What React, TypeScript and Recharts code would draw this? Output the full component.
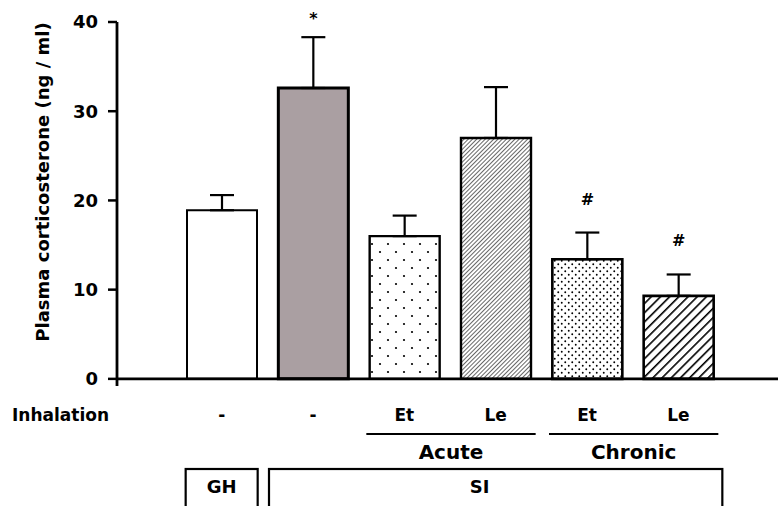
import React from 'react';
import { BarChart, Bar, XAxis, YAxis, Cell, ErrorBar, LabelList, ReferenceLine } from 'recharts';

// ---- data ----
const groups = ['GH', 'SI', 'SI Acute Et', 'SI Acute Le', 'SI Chronic Et', 'SI Chronic Le'];
const inhalation = ['-', '-', 'Et', 'Le', 'Et', 'Le'];
const means = [18.9, 32.6, 16.0, 27.0, 13.4, 9.3];
const sems = [1.7, 5.7, 2.3, 5.7, 3.0, 2.4];
const marks = ['', '*', '', '', '#', '#'];
const yTicks = [0, 10, 20, 30, 40];
const brackets = [
  { label: 'Acute', from: 2, to: 3 },
  { label: 'Chronic', from: 4, to: 5 },
];
const boxes = [
  { label: 'GH', from: 0, to: 0 },
  { label: 'SI', from: 1, to: 5 },
];
const yLabel = 'Plasma corticosterone (ng / ml)';
const rowLabel = 'Inhalation';

const data = groups.map((g, i) => ({
  group: g,
  inh: inhalation[i],
  mean: means[i],
  err: [0, sems[i]],
}));

// ---- layout / style ----
const W = 778;
const H = 506;
const Y_W = 117;
const PAD_L = 59;
const PAD_R = 54;
const STEP = (W - Y_W - PAD_L - PAD_R) / groups.length;
const FONT = "'DejaVu Sans', sans-serif";
const fills = ['#ffffff', '#aa9fa2', 'url(#dotsSparse)', 'url(#hatchFine)', 'url(#dotsDense)', 'url(#hatchBold)'];
const strokeWidths = [2, 3, 2.4, 2.4, 2.6, 2.6];

const ROW1 = 415;
const LINE_Y = 434;
const ROW2 = 452;
const BOX_TOP = 469;
const ROW3 = 486;

function XTick(props: any) {
  const { x, index } = props;
  const out: React.ReactNode[] = [];
  out.push(
    <text key="inh" x={x} y={ROW1} textAnchor="middle" dominantBaseline="central"
      fontFamily={FONT} fontWeight="bold" fontSize={17} fill="#000">{inhalation[index]}</text>
  );
  if (index === 0) {
    out.push(
      <text key="rl" x={12} y={ROW1} textAnchor="start" dominantBaseline="central"
        fontFamily={FONT} fontWeight="bold" fontSize={17} fill="#000">{rowLabel}</text>
    );
  }
  brackets.forEach((b, bi) => {
    if (b.from === index) {
      const x1 = x - 38;
      const x2 = x + (b.to - b.from) * STEP + 40;
      out.push(<line key={'bl' + bi} x1={x1} x2={x2} y1={LINE_Y} y2={LINE_Y} stroke="#000" strokeWidth={2.2} />);
      out.push(
        <text key={'bt' + bi} x={(x1 + x2) / 2} y={ROW2} textAnchor="middle" dominantBaseline="central"
          fontFamily={FONT} fontWeight="bold" fontSize={20} fill="#000">{b.label}</text>
      );
    }
  });
  boxes.forEach((b, bi) => {
    if (b.from === index) {
      const inset = b.from === b.to ? 36 : 44;
      const x1 = x - inset;
      const x2 = x + (b.to - b.from) * STEP + inset;
      const tx = b.from === b.to ? (x1 + x2) / 2 : (x1 + x2) / 2 - 16;
      out.push(<rect key={'bx' + bi} x={x1} y={BOX_TOP} width={x2 - x1} height={80} fill="none" stroke="#000" strokeWidth={2.2} />);
      out.push(
        <text key={'bxt' + bi} x={tx} y={ROW3} textAnchor="middle" dominantBaseline="central"
          fontFamily={FONT} fontWeight="bold" fontSize={18} fill="#000">{b.label}</text>
      );
    }
  });
  return <g>{out}</g>;
}

function SigLabel(props: any) {
  const { x, y, width, height, index } = props;
  const m = marks[index];
  if (!m) return null;
  const ppu = height / means[index];
  const top = y - sems[index] * ppu;
  const by = m === '*' ? top - 13 : top - 28;
  return (
    <text x={x + width / 2} y={by} textAnchor="middle" fontFamily={FONT} fontWeight="bold"
      fontSize={16} fill="#000">{m}</text>
  );
}

function YLabel() {
  return (
    <text x={42} y={182} transform="rotate(-90, 42, 182)" textAnchor="middle" dominantBaseline="central"
      fontFamily={FONT} fontWeight="bold" fontSize={18} fill="#000">{yLabel}</text>
  );
}

export default function App() {
  return (
    <div style={{ position: 'absolute', left: 0, top: 0, width: W, height: H, background: '#fff' }}>
      <BarChart width={W} height={H} data={data} margin={{ top: 22, right: 0, bottom: 20, left: 0 }}>
        <defs>
          <pattern id="dotsSparse" width="16" height="16" patternUnits="userSpaceOnUse">
            <rect width="16" height="16" fill="#fff" />
            <circle cx="4" cy="4" r="1.1" fill="#000" />
            <circle cx="12" cy="12" r="1.1" fill="#000" />
          </pattern>
          <pattern id="dotsDense" width="7" height="7" patternUnits="userSpaceOnUse">
            <rect width="7" height="7" fill="#fff" />
            <circle cx="1.75" cy="1.75" r="0.95" fill="#000" />
            <circle cx="5.25" cy="5.25" r="0.95" fill="#000" />
          </pattern>
          <pattern id="hatchFine" width="3" height="3" patternUnits="userSpaceOnUse" patternTransform="rotate(45)">
            <rect width="3" height="3" fill="#fff" />
            <line x1="0" y1="0" x2="0" y2="3" stroke="#000" strokeWidth="1.2" />
          </pattern>
          <pattern id="hatchBold" width="6.5" height="6.5" patternUnits="userSpaceOnUse" patternTransform="rotate(45)">
            <rect width="6.5" height="6.5" fill="#fff" />
            <line x1="0" y1="0" x2="0" y2="6.5" stroke="#000" strokeWidth="3.2" />
          </pattern>
        </defs>
        <XAxis dataKey="group" type="category" axisLine={false} tickLine={false} interval={0}
          height={100} padding={{ left: PAD_L, right: PAD_R }} tick={<XTick />} />
        <YAxis type="number" domain={[-0.8, 40]} ticks={yTicks} width={Y_W} allowDataOverflow
          axisLine={{ stroke: '#000', strokeWidth: 2.8 }} tickLine={{ stroke: '#000', strokeWidth: 2.5 }}
          tickSize={9} tickMargin={10}
          tick={{ fill: '#000', fontSize: 18, fontWeight: 'bold', fontFamily: FONT }}
          label={<YLabel />} />
        <ReferenceLine y={0} stroke="#000" strokeWidth={2.8} />
        <Bar dataKey="mean" barSize={70} isAnimationActive={false}>
          {data.map((d, i) => (
            <Cell key={d.group} fill={fills[i]} stroke="#000" strokeWidth={strokeWidths[i]} />
          ))}
          <ErrorBar dataKey="err" width={12} stroke="#000" strokeWidth={2.2} direction="y" />
          <LabelList dataKey="mean" content={<SigLabel />} />
        </Bar>
      </BarChart>
    </div>
  );
}
